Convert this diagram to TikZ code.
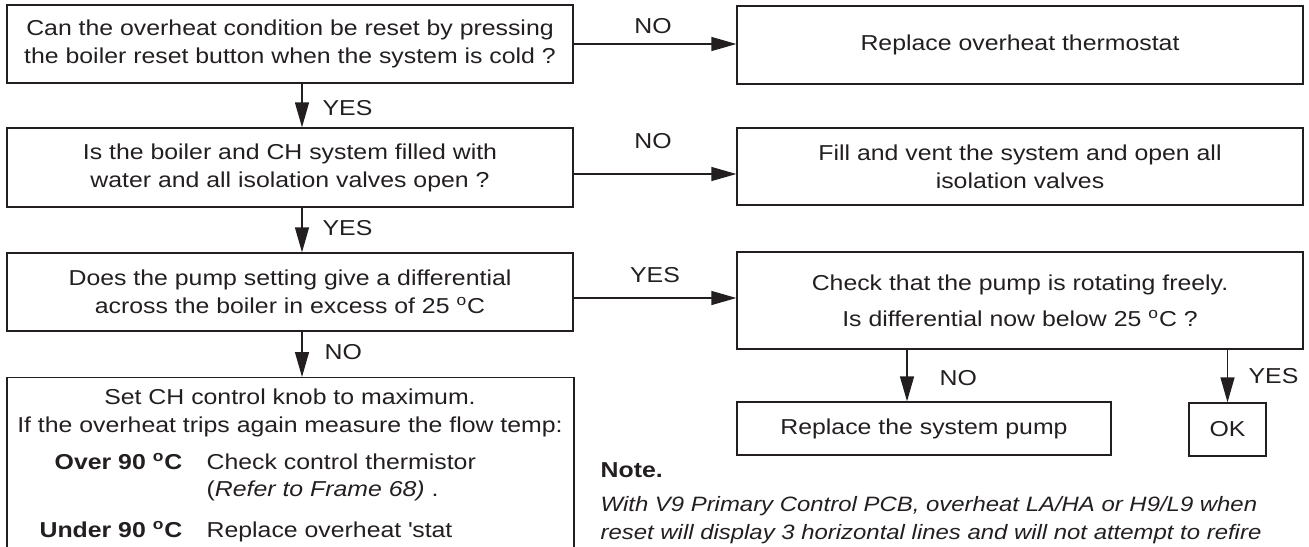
\documentclass[tikz,border=0pt]{standalone}
\usepackage{fontspec}
\setmainfont[FakeStretch=1.15]{Liberation Sans}
\usetikzlibrary{arrows.meta}
\definecolor{ink}{HTML}{231F20}
\newcommand\flowfont{\fontsize{10.8}{14}\selectfont}
\newcommand\notefont{\fontsize{10.4}{14}\selectfont\itshape}

\begin{document}
\begin{tikzpicture}[x=0.5pt,y=-0.5pt,line width=0.65pt,
  box/.style={draw=ink,rectangle,inner sep=0pt,align=center,font=\flowfont,text=ink},
  lbl/.style={font=\flowfont,text=ink,inner sep=0pt},
  flow/.style={draw=ink,-{Triangle[length=12.5pt,width=7pt]}}]
  \useasboundingbox (0,0) rectangle (1309,546);
  \clip (0,0) rectangle (1309,546);

  \node[box,minimum width=283pt,minimum height=39pt] (q1) at (290,44)
    {Can the overheat condition be reset by pressing\\the boiler reset button when the system is cold ?};
  \node[box,minimum width=283pt,minimum height=39.5pt] (q2) at (290,167.5)
    {Is the boiler and CH system filled with\\water and all isolation valves open ?};
  \node[box,minimum width=283pt,minimum height=39pt] (q3) at (290,292)
    {Does the pump setting give a differential\\across the boiler in excess of 25 \textsuperscript{o}C};
  \node[box,anchor=north,minimum width=283.5pt,minimum height=100pt] (q4) at (290.5,377) {};

  \node[box,minimum width=283pt,minimum height=39pt] (r1) at (1020,45) {Replace overheat thermostat};
  \node[box,minimum width=283pt,minimum height=38.5pt] (r2) at (1020,166.5)
    {Fill and vent the system and open all\\isolation valves};
  \node[box,minimum width=283pt,minimum height=48.5pt,font={\fontsize{10.8}{18}\selectfont}] (r3) at (1020,300.5)
    {Check that the pump is rotating freely.\\Is differential now below 25 \textsuperscript{o}C ?};
  \node[box,minimum width=187pt,minimum height=26.5pt] (pump) at (924,428.5) {Replace the system pump};
  \node[box,minimum width=38.5pt,minimum height=26.5pt] (ok) at (1227.5,429.5) {OK};

  \node[lbl,anchor=base] (q4a) at (290,404) {Set CH control knob to maximum.};
  \node[lbl,anchor=base] (q4b) at (290,432) {If the overheat trips again measure the flow temp:};
  \node[lbl,anchor=base east,font=\flowfont\bfseries] (over) at (183,469) {Over 90 \textsuperscript{o}C};
  \node[lbl,anchor=base west] (overdo) at (206,469) {Check control thermistor};
  \node[lbl,anchor=base west] (overref) at (206,496) {(\textit{Refer to Frame 68)} .};
  \node[lbl,anchor=base east,font=\flowfont\bfseries] (under) at (183,537) {Under 90 \textsuperscript{o}C};
  \node[lbl,anchor=base west] (underdo) at (206,537) {Replace overheat \textquotesingle stat};

  \draw[flow] (q1.east) -- (q1.east -| r1.west);
  \draw[flow] ([yshift=-3.25pt]q2.east) coordinate (q2out) -- (q2out -| r2.west);
  \draw[flow] ([yshift=-3pt]q3.east) coordinate (q3out) -- (q3out -| r3.west);
  \draw[flow] ([xshift=6pt]q1.south) -- ([xshift=6pt]q2.north);
  \draw[flow] ([xshift=6pt]q2.south) -- ([xshift=6pt]q3.north);
  \draw[flow] ([xshift=6pt]q3.south) coordinate (q3down) -- (q3down |- q4.north);
  \coordinate (pumpin) at ([xshift=-8.5pt]pump.north);
  \draw[flow] (pumpin |- r3.south) -- (pumpin);
  \draw[flow] (ok.north |- r3.south) -- (ok.north);

  \node[lbl,anchor=base] (no1) at (653,33) {NO};
  \node[lbl,anchor=base] (no2) at (653,148) {NO};
  \node[lbl,anchor=base] (yes3) at (655,282) {YES};
  \node[lbl,anchor=base west] (yes1) at (322,115) {YES};
  \node[lbl,anchor=base west] (yes2) at (322,235) {YES};
  \node[lbl,anchor=base west] (no3) at (324,359) {NO};
  \node[lbl,anchor=base west] (no4) at (939,385) {NO};
  \node[lbl,anchor=base west] (yes4) at (1248,383) {YES};

  \node[lbl,anchor=base west,font=\flowfont\bfseries] (note) at (600,477) {Note.};
  \node[lbl,anchor=base west,font=\notefont] (notea) at (600,511)
    {With V9 Primary Control PCB, overheat LA/HA or H9/L9 when};
  \node[lbl,anchor=base west,font=\notefont] (noteb) at (600,539)
    {reset will display 3 horizontal lines and will not attempt to refire};
\end{tikzpicture}
\end{document}
